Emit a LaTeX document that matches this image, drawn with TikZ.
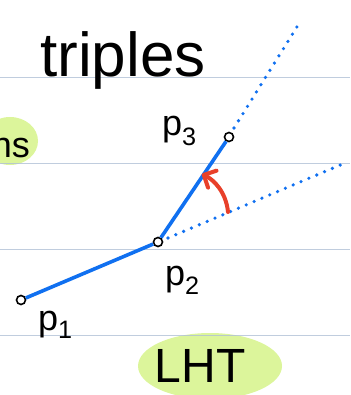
\documentclass[tikz,border=0pt]{standalone}
\usepackage{fontspec}
\setmainfont{Liberation Sans}
\usetikzlibrary{arrows.meta}
\definecolor{ruleblue}{RGB}{176,192,214}
\definecolor{penblue}{RGB}{16,112,240}
\definecolor{penred}{RGB}{232,64,42}
\definecolor{marker}{RGB}{220,245,155}
\begin{document}
\begin{tikzpicture}[x=1pt, y=-1pt, >={Straight Barb[round]},
        rule/.style={ruleblue, line width=0.9pt},
        hl/.style={fill=marker, draw=none},
        pt/.style={circle, draw, line width=1.6pt, inner sep=0pt, minimum size=9pt, fill=white},
        seg/.style={penblue, line width=3.6pt},
        ext/.style={penblue, line width=3.6pt, line cap=round, dash pattern=on 0pt off 8.5pt},
        lbl/.style={font=\fontsize{36}{40}\selectfont, inner sep=0pt}]
    \clip (0,0) rectangle (350,395);

    % Highlights
    \fill[hl] (10,141) ellipse [x radius=28, y radius=24];
    \fill[hl] (210,366) ellipse [x radius=72, y radius=33];

    % Ruled paper
    \foreach \y in {77,163,249,335} {
        \draw[rule, opacity=0.8] (0,\y) -- (350,\y);
    }

    % Title
    \node[font=\fontsize{62}{70}\selectfont, inner sep=0pt, anchor=base west] (title) at (40,77) {triples};
    \node[lbl, anchor=base east] (ns) at (30,158) {ns};
    \node[font=\fontsize{48}{56}\selectfont, inner sep=0pt, anchor=base] (lht) at (200,382) {LHT};

    % Extensions
    \coordinate (e2) at (345,163);
    \coordinate (e3) at (300,22);
    \draw[ext] (168,238) -- (e2);
    \draw[ext] (234,128) -- (e3);

    % Points
    \node[pt] (p1) at (21,300) {};
    \node[pt] (p2) at (158,242) {};
    \node[pt] (p3) at (229,137) {};
    \draw[seg] (p1) -- (p2) -- (p3);

    \node[lbl, anchor=base west] (l1) at (38,330) {p\textsubscript{1}};
    \node[lbl, anchor=base west] (l2) at (165,285) {p\textsubscript{2}};
    \node[lbl, anchor=base west] (l3) at (162,136) {p\textsubscript{3}};

    % Turn
    \coordinate (a0) at (228,212);
    \coordinate (a1) at (202,174);
    \draw[->, penred, line width=4pt, line cap=round] (a0) .. controls (226,192) and (214,180) .. (a1);
\end{tikzpicture}
\end{document}
